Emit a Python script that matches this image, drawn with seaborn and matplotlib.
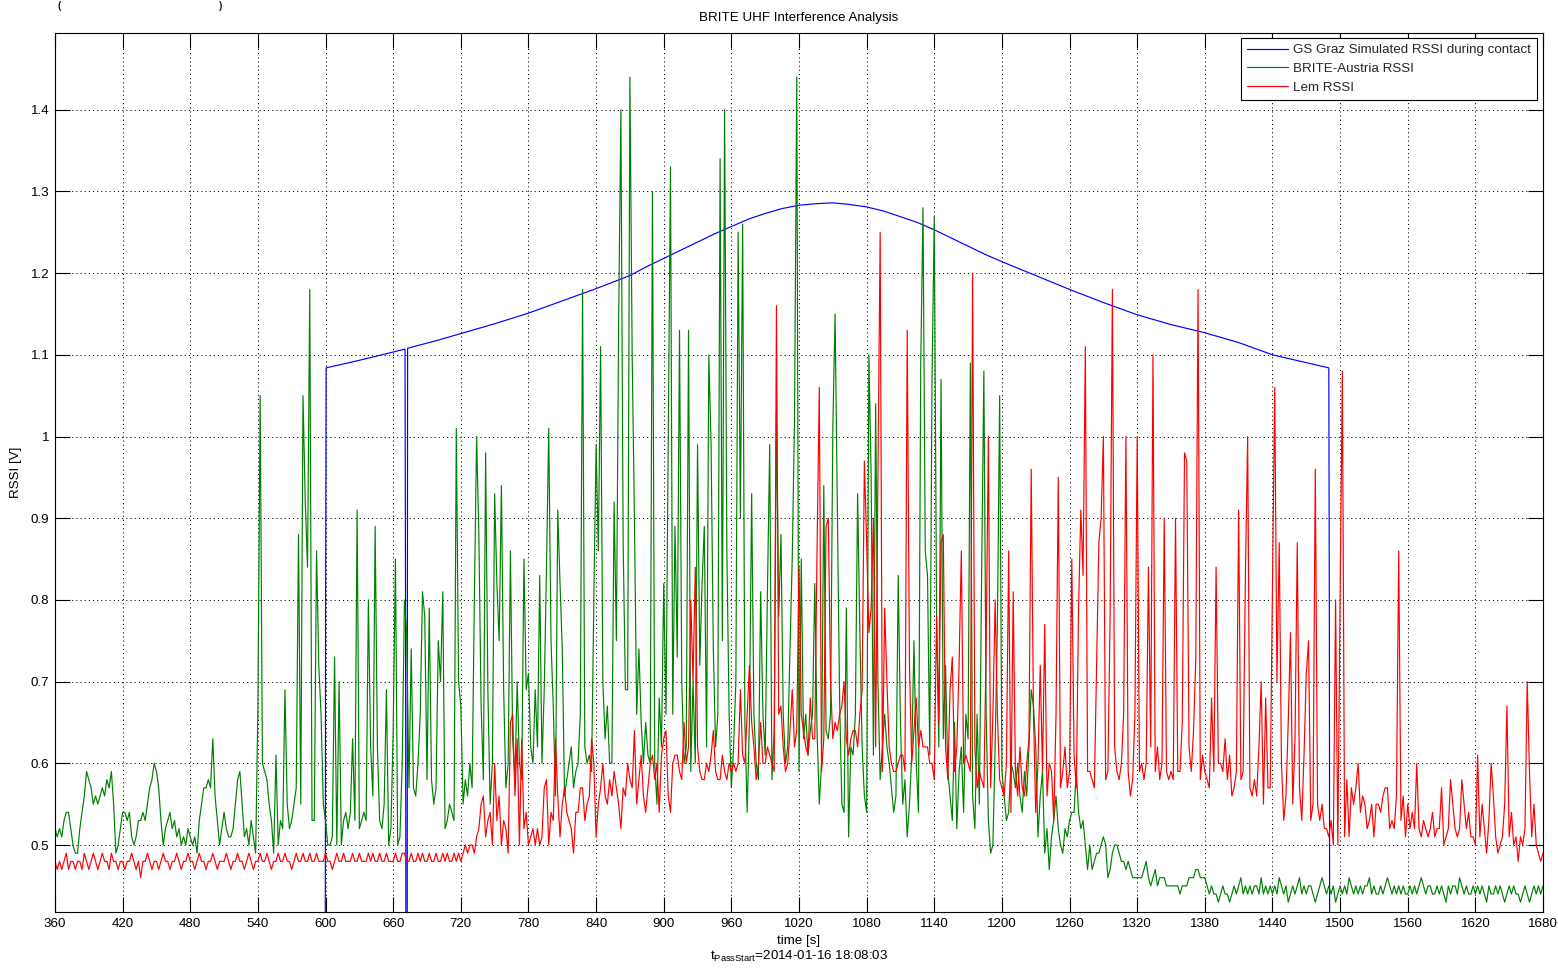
import numpy as np
import pandas as pd
import matplotlib
matplotlib.use("Agg")
import matplotlib.pyplot as plt
import seaborn as sns

# ---------------- data ----------------
T_START, T_STEP = 360, 2          # sample times of the two measured series [s]

# BRITE-Austria RSSI, hundredths of a volt, one row per 60 s
green_cV = [
    52,51,52,51,53,54,54,52,50,49,49,52,54,56,59,58,57,55,56,55,56,57,56,58,57,59,55,49,50,52,
    54,54,53,54,51,50,51,53,53,54,53,55,57,58,60,59,57,53,50,52,53,54,52,53,51,52,50,51,50,52,
    51,50,51,49,53,55,57,57,58,57,63,56,53,50,52,54,52,51,51,52,55,58,59,55,51,52,50,53,51,49,
    67,105,60,59,58,55,53,49,61,50,53,52,69,55,52,53,55,57,88,55,105,92,84,118,53,53,86,72,66,55,
    53,50,50,51,73,50,70,50,53,54,52,54,63,53,91,52,53,54,53,80,62,56,89,62,53,52,55,69,50,52,
    64,85,50,51,60,80,76,57,74,57,56,60,66,81,78,58,79,58,55,57,75,70,81,52,53,55,54,53,101,70,
    67,55,58,56,60,57,80,100,88,67,58,98,69,55,60,93,82,75,94,69,57,60,86,63,58,70,60,58,85,69,
    71,62,60,69,62,83,60,69,84,101,75,67,56,91,82,74,56,58,60,62,57,59,60,66,118,62,60,61,59,80,
    99,86,111,70,63,67,60,60,92,75,114,140,87,69,69,144,110,90,66,74,65,60,65,61,60,130,60,55,68,62,
    82,66,99,133,66,89,73,113,70,60,62,113,59,70,60,99,72,82,89,62,110,99,74,62,66,134,75,140,86,66,
    57,62,70,125,90,126,65,54,65,93,66,60,58,81,66,61,81,99,58,64,103,78,88,66,60,62,74,85,102,144,
    59,85,63,66,61,64,66,82,64,55,60,94,64,63,66,101,115,92,68,55,54,79,51,62,61,66,93,76,62,56,
    54,110,95,61,104,70,58,62,66,62,60,57,54,56,83,65,55,58,51,55,61,75,60,54,109,128,86,83,61,107,
    127,79,62,107,63,72,59,56,53,65,52,59,62,54,66,63,109,56,52,66,55,83,108,66,53,49,50,62,77,105,
    59,56,53,54,60,59,57,60,56,54,59,56,62,69,67,62,51,56,59,49,52,47,51,53,56,52,50,49,52,51,
    53,54,54,59,54,52,53,50,47,50,47,48,49,49,50,51,50,46,47,49,50,50,49,48,48,47,48,47,46,46,
    46,46,46,47,48,46,45,46,47,45,46,46,46,45,45,45,45,45,45,44,45,45,45,46,46,46,47,47,46,46,
    46,45,44,45,44,44,43,44,45,44,44,43,44,45,44,45,46,44,45,44,45,44,45,45,44,46,44,45,44,45,
    44,45,44,46,45,44,45,43,44,45,44,45,46,44,45,44,45,45,44,43,44,45,46,45,44,45,44,45,43,44,
    45,44,45,44,46,45,44,45,44,45,44,45,45,46,44,45,44,44,45,44,45,46,45,44,45,44,45,44,45,44,
    44,45,44,45,44,45,46,45,44,45,45,44,44,45,44,45,44,43,45,44,45,45,44,46,45,44,45,44,44,45,
    44,45,44,45,44,43,45,44,44,45,44,45,44,43,44,45,44,45,44,44,43,44,45,44,43,44,45,44,45,44,
    45,
]

# Lem RSSI, hundredths of a volt, one row per 60 s
red_cV = [
    48,47,48,47,48,49,47,48,48,47,48,48,47,49,48,47,48,49,48,47,48,49,48,48,47,49,48,48,47,48,
    48,47,48,48,49,48,47,48,46,48,48,49,48,47,48,48,47,48,49,48,48,47,48,48,49,48,47,48,48,49,
    48,48,47,48,49,48,48,47,48,48,49,48,47,48,48,48,49,48,47,48,48,49,48,48,47,48,49,48,47,48,
    48,49,48,48,49,48,47,48,48,49,48,48,49,48,48,47,48,49,48,48,49,48,48,49,48,48,49,48,48,48,
    49,48,48,47,48,49,48,48,49,48,48,48,49,48,48,49,48,48,48,49,48,49,48,48,49,48,48,49,48,48,
    48,49,48,48,49,49,48,48,49,48,48,49,48,49,48,48,49,48,48,49,48,48,49,48,49,48,48,49,48,49,
    48,49,50,49,50,50,49,51,52,55,56,51,53,54,50,60,53,56,50,53,52,49,65,66,56,63,50,63,52,54,
    50,51,52,50,52,50,51,57,58,50,54,53,63,56,51,55,57,54,53,52,49,54,54,57,57,53,55,56,63,60,
    51,55,57,60,56,55,58,56,59,57,55,52,57,56,60,58,57,64,55,58,61,56,54,57,60,61,58,60,54,61,
    63,64,56,54,60,61,61,59,58,65,60,62,80,70,84,62,59,58,58,60,59,61,64,59,58,58,61,59,58,60,
    59,60,59,60,69,61,60,66,72,65,62,58,60,65,60,60,62,61,60,59,116,66,67,62,59,60,64,69,62,64,
    84,66,64,62,61,68,63,63,86,106,59,63,89,90,70,63,65,64,66,67,70,63,61,63,64,64,62,66,69,97,
    87,76,79,90,62,95,125,59,79,70,62,60,59,59,60,61,61,59,113,72,60,64,68,62,64,62,62,62,60,60,
    58,78,65,87,88,62,58,69,73,59,62,72,86,60,61,60,59,120,62,57,59,58,57,74,100,57,66,80,66,58,
    57,56,60,86,54,81,59,56,62,57,56,60,63,96,66,54,60,72,59,77,56,60,59,53,66,95,57,59,62,57,
    59,85,61,57,79,91,83,111,59,59,58,57,72,87,90,100,58,59,78,118,62,59,58,60,66,100,59,56,58,66,
    100,59,60,58,60,84,62,110,59,62,58,60,90,59,58,59,58,90,59,59,65,98,97,62,59,64,73,118,58,61,
    59,58,57,68,59,84,60,60,59,63,58,61,56,57,59,91,58,59,83,100,57,56,58,56,62,70,55,68,57,57,
    82,106,70,87,60,53,56,65,76,55,63,87,57,53,61,71,75,53,55,96,55,53,55,52,52,51,53,50,80,50,
    80,108,51,58,51,57,55,57,60,54,56,55,52,53,55,51,55,55,54,56,57,57,52,53,52,56,86,53,56,51,
    55,52,54,52,60,52,51,53,52,51,52,54,51,52,52,57,50,51,52,58,55,52,51,52,58,55,52,54,51,51,
    50,61,51,55,52,49,53,60,56,51,49,50,51,55,67,51,54,50,51,48,51,50,52,70,59,51,55,50,49,48,
    49,
]

# GS Graz simulated RSSI during contact (0 outside the contact window)
blue_t = [360, 599.5, 600, 600.5, 626, 650, 670.5, 671, 671.5, 672.3, 672.6, 672.8,
          700, 720, 750, 780, 810, 840, 855, 870, 885, 900, 915, 930, 945, 960, 975,
          990, 1005, 1020, 1035, 1050, 1065, 1080, 1095, 1110, 1125, 1140, 1155, 1170,
          1185, 1200, 1230, 1260, 1290, 1320, 1350, 1380, 1410, 1440, 1465, 1490,
          1490.5, 1491, 1680]
blue_v = [0.0, 0.0, 0.75, 1.084, 1.092, 1.100, 1.107, 0.764, 0.0, 0.0, 0.764, 1.108,
          1.118, 1.126, 1.138, 1.151, 1.166, 1.181, 1.189, 1.197, 1.208, 1.218, 1.228,
          1.238, 1.248, 1.257, 1.266, 1.273, 1.279, 1.283, 1.285, 1.286, 1.284, 1.281,
          1.276, 1.269, 1.262, 1.253, 1.243, 1.233, 1.223, 1.214, 1.197, 1.180, 1.164,
          1.149, 1.137, 1.127, 1.115, 1.100, 1.092, 1.084, 0.75, 0.0, 0.0]

series_labels = ["GS Graz Simulated RSSI during contact", "BRITE-Austria RSSI", "Lem RSSI"]
series_colors = ["#0000ff", "#008000", "#ff0000"]

x_ticks = list(range(360, 1681, 60))
y_ticks = [0.5, 0.6, 0.7, 0.8, 0.9, 1.0, 1.1, 1.2, 1.3, 1.4]
y_tick_labels = ["0.5", "0.6", "0.7", "0.8", "0.9", "1", "1.1", "1.2", "1.3", "1.4"]
x_lim = (360, 1680)
y_lim = (0.418, 1.4945)

# ---------------- style ----------------
sns.set_theme(style="white")
plt.rcParams["font.family"] = ["Liberation Sans", "DejaVu Sans"]
plt.rcParams["mathtext.fontset"] = "custom"
plt.rcParams["mathtext.rm"] = "Liberation Sans"
plt.rcParams["mathtext.it"] = "Liberation Sans"
FS = 9.6

W, H = 1558, 968
fig = plt.figure(figsize=(W / 100, H / 100), dpi=100)
fig.patch.set_facecolor("white")
ax = fig.add_axes([55 / W, (H - 912) / H, 1488 / W, 879.5 / H])
ax.set_facecolor("white")

t_meas = T_START + T_STEP * np.arange(len(green_cV))
df_blue = pd.DataFrame({"time": blue_t, "rssi": blue_v})
df_green = pd.DataFrame({"time": t_meas, "rssi": np.array(green_cV) / 100.0})
df_red = pd.DataFrame({"time": t_meas, "rssi": np.array(red_cV) / 100.0})

for df, lab, col in zip([df_blue, df_green, df_red], series_labels, series_colors):
    sns.lineplot(data=df, x="time", y="rssi", ax=ax, color=col, linewidth=0.85,
                 label=lab, estimator=None, sort=False)

ax.set_xlim(*x_lim)
ax.set_ylim(*y_lim)
ax.set_xticks(x_ticks)
ax.set_xticklabels([str(v) for v in x_ticks])
ax.set_yticks(y_ticks)
ax.set_yticklabels(y_tick_labels)

ax.grid(True, color="black", linestyle=(0, (1, 3)), linewidth=0.75)
ax.set_axisbelow(True)
for s in ax.spines.values():
    s.set_visible(True)
    s.set_color("black")
    s.set_linewidth(0.8)
ax.tick_params(axis="both", which="major", direction="in", length=10.8, width=0.8,
               colors="black", labelsize=FS, top=True, right=True, bottom=True,
               left=True, pad=4)

ax.set_title("BRITE UHF Interference Analysis", fontsize=FS, pad=8, color="black")
ax.set_xlabel("time [s]", fontsize=FS, labelpad=4, color="black")
ax.set_ylabel("RSSI [V]", fontsize=FS, labelpad=6, color="black")
fig.text(799 / W, 1 - 956 / H, r"$\mathregular{t_{PassStart}}$=2014-01-16 18:08:03",
         ha="center", va="center", fontsize=FS, color="black")

# small bracket glyphs at the very top edge (kept fully inside the canvas)
fig.text(57 / W, 1 - 1 / H, "(", ha="left", va="top", fontsize=7,
         fontweight="bold", color="#1a1a1a")
fig.text(219 / W, 1 - 1 / H, ")", ha="left", va="top", fontsize=7,
         fontweight="bold", color="#1a1a1a")

leg = ax.legend(loc="upper right", bbox_to_anchor=(0.996, 0.9937), fontsize=FS,
                frameon=True, fancybox=False, shadow=False, framealpha=1,
                edgecolor="black", handlelength=3.1, handletextpad=0.4,
                borderpad=0.45, labelspacing=0.48, borderaxespad=0)
leg.get_frame().set_linewidth(0.8)
for line in leg.get_lines():
    line.set_linewidth(0.85)

fig.savefig("out.png", dpi=100, facecolor="white")
